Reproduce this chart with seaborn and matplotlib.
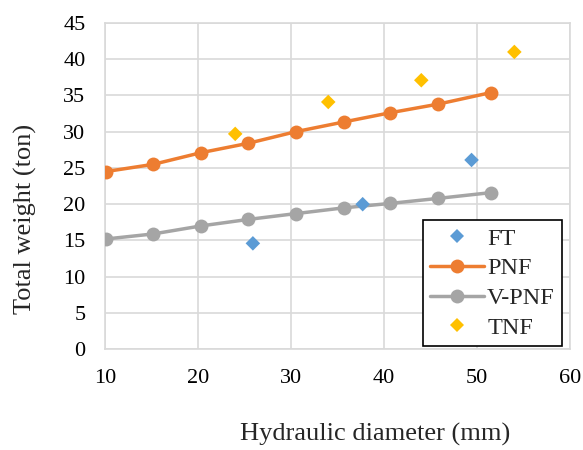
import matplotlib
matplotlib.use("Agg")
import matplotlib.pyplot as plt
import seaborn as sns
import pandas as pd
from matplotlib.lines import Line2D

# values
pnf_x = [10.1, 15.2, 20.3, 25.4, 30.5, 35.7, 40.6, 45.8, 51.5]
pnf_y = [24.5, 25.5, 27.1, 28.4, 30.0, 31.35, 32.6, 33.8, 35.4]
vpnf_x = [10.1, 15.2, 20.3, 25.4, 30.5, 35.7, 40.6, 45.8, 51.5]
vpnf_y = [15.2, 15.9, 17.0, 17.9, 18.7, 19.5, 20.1, 20.8, 21.6]
ft_x = [25.9, 37.7, 49.4]
ft_y = [14.6, 20.0, 26.1]
tnf_x = [24.0, 34.0, 44.0, 54.0]
tnf_y = [29.7, 34.1, 37.1, 41.0]

colors = {"FT": "#5B9BD5", "PNF": "#ED7D31", "V-PNF": "#A5A5A5", "TNF": "#FFC000"}

lines = pd.concat([
    pd.DataFrame({"x": pnf_x, "y": pnf_y, "series": "PNF"}),
    pd.DataFrame({"x": vpnf_x, "y": vpnf_y, "series": "V-PNF"}),
])
points = pd.concat([
    pd.DataFrame({"x": ft_x, "y": ft_y, "series": "FT"}),
    pd.DataFrame({"x": tnf_x, "y": tnf_y, "series": "TNF"}),
])

sns.set_style("white")
plt.rcParams["font.family"] = ["Liberation Serif", "DejaVu Serif"]

fig, ax = plt.subplots(figsize=(5.83, 4.5), dpi=100)
fig.subplots_adjust(left=0.18, right=0.978, top=0.949, bottom=0.224)

sns.lineplot(data=lines, x="x", y="y", hue="series", palette=colors, marker="o",
             markersize=10, markeredgewidth=0, linewidth=2.5, sort=False,
             legend=False, ax=ax, zorder=3)
sns.scatterplot(data=points, x="x", y="y", hue="series", palette=colors, marker="D",
                s=55, linewidth=0, legend=False, ax=ax, zorder=4)

ax.set_xlim(10, 60)
ax.set_ylim(0, 45)
ax.set_xticks(range(10, 61, 10))
ax.set_yticks(range(0, 46, 5))
ax.grid(True, color="#D9D9D9", linewidth=1.2)
ax.set_axisbelow(True)
for s in ax.spines.values():
    s.set_color("#D9D9D9")
    s.set_linewidth(1.2)
ax.tick_params(length=0, labelsize=16, colors="black")
ax.tick_params(axis="x", pad=14)
ax.tick_params(axis="y", pad=14)

ax.set_xlabel("Hydraulic diameter (mm)", fontsize=19)
ax.set_ylabel("Total weight (ton)", fontsize=19)
ax.xaxis.set_label_coords(0.58, -0.225)
ax.yaxis.set_label_coords(-0.145, 0.40)

handles = [
    Line2D([], [], color=colors["FT"], marker="D", linestyle="none", markersize=7, markeredgewidth=0),
    Line2D([], [], color=colors["PNF"], marker="o", linewidth=2.5, markersize=10, markeredgewidth=0),
    Line2D([], [], color=colors["V-PNF"], marker="o", linewidth=2.5, markersize=10, markeredgewidth=0),
    Line2D([], [], color=colors["TNF"], marker="D", linestyle="none", markersize=7, markeredgewidth=0),
]
leg = ax.legend(handles, ["FT", "PNF", "V-PNF", "TNF"], loc="lower right",
                bbox_to_anchor=(0.983, 0.009), fontsize=17.5, frameon=True, fancybox=False,
                edgecolor="black", framealpha=1, handlelength=2.2, handletextpad=0.15,
                borderpad=0.3, labelspacing=0.32, borderaxespad=0)
leg.get_frame().set_linewidth(1.2)

plt.savefig("out.png", dpi=100)
